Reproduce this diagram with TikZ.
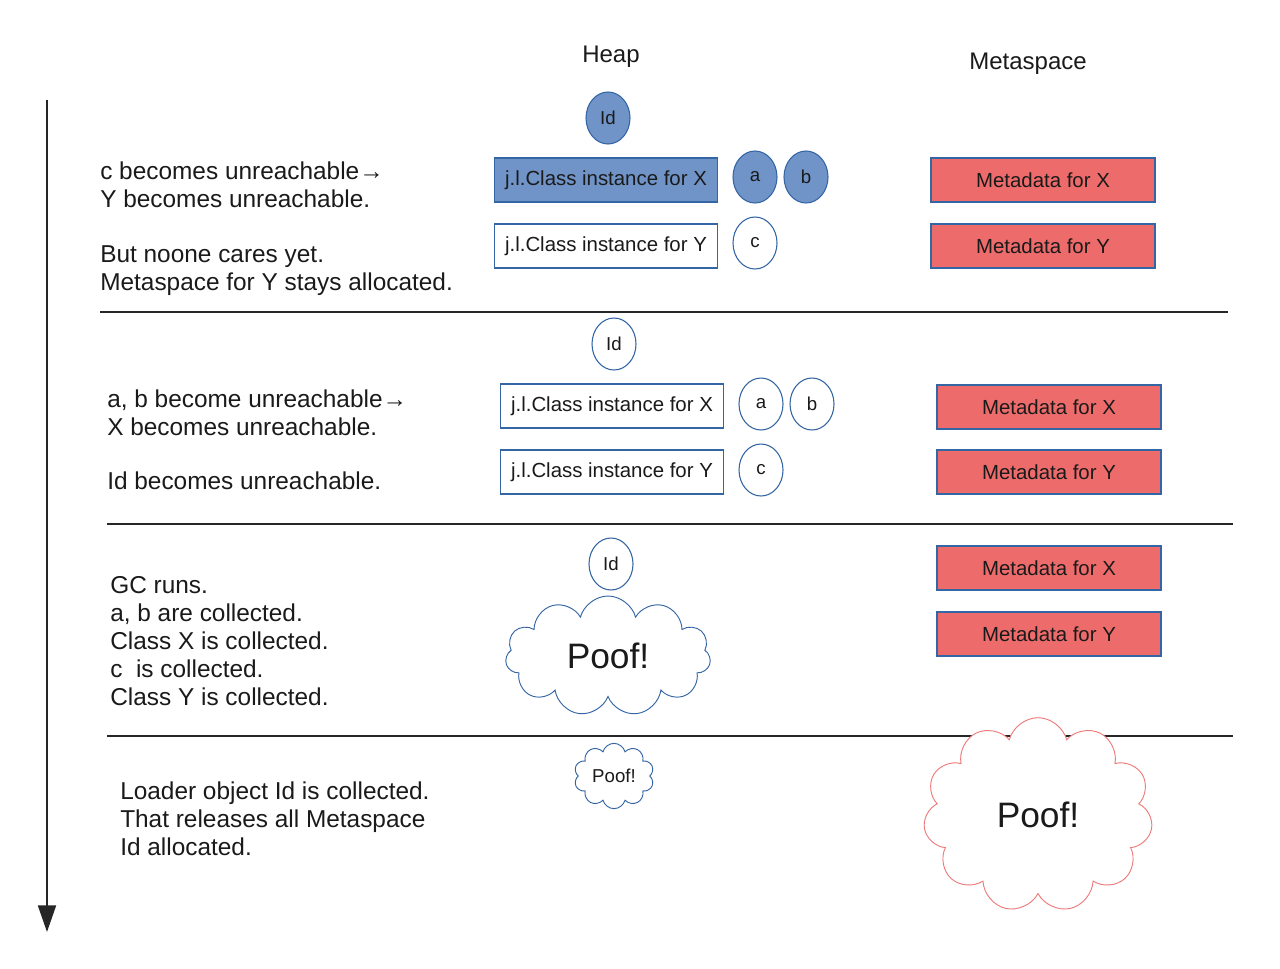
\documentclass[tikz,border=0pt]{standalone}
\usepackage{fontspec}
\setmainfont{Liberation Sans}
\usetikzlibrary{shapes.geometric,shapes.symbols,arrows.meta}
\definecolor{heapblue}{HTML}{7094C8}
\definecolor{edgeblue}{HTML}{3465A4}
\definecolor{metared}{HTML}{EE6B6B}
\definecolor{cloudred}{HTML}{EE7B7B}
\definecolor{txt}{HTML}{1A1A1A}
\begin{document}
\begin{tikzpicture}[x=0.75pt,y=-0.75pt,
  every node/.style={text=txt},
  obj/.style={ellipse,draw=edgeblue,line width=0.8pt,minimum width=33pt,minimum height=39pt,inner sep=0pt,font=\fontsize{14}{16}\selectfont},
  live/.style={fill=heapblue},
  dead/.style={fill=white},
  clsbox/.style={rectangle,draw=edgeblue,line width=0.8pt,minimum width=167pt,minimum height=33pt,inner sep=0pt,font=\fontsize{15.3}{18}\selectfont},
  metabox/.style={rectangle,draw=edgeblue,line width=0.8pt,fill=metared,minimum width=168pt,minimum height=33pt,inner sep=0pt,font=\fontsize{15.3}{18}\selectfont},
  poof/.style={cloud,cloud ignores aspect,draw,fill=white,line width=0.7pt,inner sep=0pt},
  note/.style={anchor=north west,align=left,inner sep=0pt,font=\fontsize{18.3}{21}\selectfont},
  sep/.style={line width=1pt,draw=black!85},
  title/.style={font=\fontsize{18}{21}\selectfont}]
\useasboundingbox (0,0) rectangle (1280,968);
% time arrow
\coordinate (t0) at (47,100);
\coordinate (t1) at (47,932);
\draw[line width=1.5pt,black!85,-{Triangle[width=13.5pt,length=20pt]}] (t0) -- (t1);
% titles
\node[title] (heap) at (611,57) {Heap};
\node[title] (meta) at (1028,64) {Metaspace};
% separators
\coordinate (s1l) at (100,312); \coordinate (s1r) at (1228,312);
\coordinate (s2l) at (107,524); \coordinate (s2r) at (1233,524);
\coordinate (s3l) at (107,736); \coordinate (s3r) at (1233,736);
\draw[sep] (s1l) -- (s1r);
\draw[sep] (s2l) -- (s2r);
\draw[sep] (s3l) -- (s3r);
% section 1
\node[note] (n1) at (100,162) {c becomes unreachable→\\Y becomes unreachable.\\[20pt]But noone cares yet.\\Metaspace for Y stays allocated.};
\node[obj,live] (id1) at (608,118) {Id};
\node[clsbox,fill=heapblue] (cx1) at (606,180) {j.l.Class instance for X};
\node[clsbox,fill=white] (cy1) at (606,246) {j.l.Class instance for Y};
\node[obj,live] (a1) at (755,177) {a};
\node[obj,live] (b1) at (806,177) {b};
\node[obj,dead] (c1) at (755,243) {c};
\node[metabox] (mx1) at (1043,180) {Metadata for X};
\node[metabox] (my1) at (1043,246) {Metadata for Y};
% section 2
\node[note] (n2) at (107,390) {a, b become unreachable→\\X becomes unreachable.\\[19pt]Id becomes unreachable.};
\node[obj,dead] (id2) at (614,344) {Id};
\node[clsbox,fill=white] (cx2) at (612,406) {j.l.Class instance for X};
\node[clsbox,fill=white] (cy2) at (612,472) {j.l.Class instance for Y};
\node[obj,dead] (a2) at (761,404) {a};
\node[obj,dead] (b2) at (812,404) {b};
\node[obj,dead] (c2) at (761,470) {c};
\node[metabox] (mx2) at (1049,407) {Metadata for X};
\node[metabox] (my2) at (1049,472) {Metadata for Y};
% section 3
\node[note] (n3) at (110,576) {GC runs.\\a, b are collected.\\Class X is collected.\\c\ \ is collected.\\Class Y is collected.};
\node[obj,dead] (id3) at (611,564) {Id};
\node[poof,draw=edgeblue,cloud puffs=11,minimum width=154pt,minimum height=90pt,font=\fontsize{26.5}{30}\selectfont] (p1) at (608,656) {Poof!};
\node[metabox] (mx3) at (1049,568) {Metadata for X};
\node[metabox] (my3) at (1049,634) {Metadata for Y};
% section 4
\node[note] (n4) at (120,782) {Loader object Id is collected.\\That releases all Metaspace\\Id allocated.};
\node[poof,draw=edgeblue,cloud puffs=10,minimum width=60pt,minimum height=49pt,font=\fontsize{14}{16}\selectfont] (p2) at (614,776) {Poof!};
\node[poof,draw=cloudred,cloud puffs=11,minimum width=172pt,minimum height=146pt,font=\fontsize{26.5}{30}\selectfont] (p3) at (1038,815) {Poof!};
\end{tikzpicture}
\end{document}
